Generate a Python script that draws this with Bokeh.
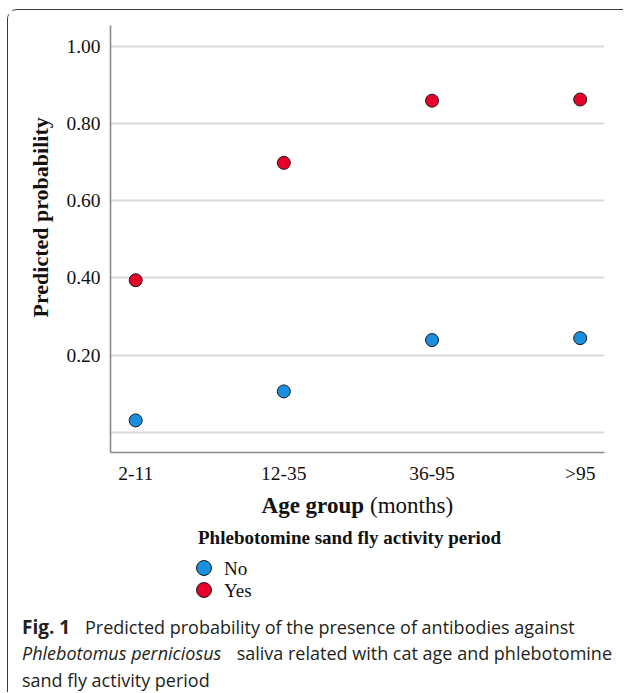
from bokeh.plotting import figure
from bokeh.layouts import column
from bokeh.models import Range1d, FixedTicker, Label, Title
from bokeh.embed import file_html
from bokeh.resources import INLINE

# ---- data ----
age_groups = ["2-11", "12-35", "36-95", ">95"]
prob_no = [0.031, 0.106, 0.239, 0.244]
prob_yes = [0.394, 0.698, 0.859, 0.862]
y_ticks = [0.0, 0.2, 0.4, 0.6, 0.8, 1.0]
y_tick_labels = ["", "0.20", "0.40", "0.60", "0.80", "1.00"]
series_names = ["No", "Yes"]
series_colors = ["#1a8fe0", "#e8002b"]
legend_title = "Phlebotomine sand fly activity period"
x_title = ("Age group", "(months)")
y_title = "Predicted probability"

# ---- layout constants ----
OX, OY = 8.5, 10.5           # page offset of the figures (inside the framed box)
WA, HA = 615, 476            # chart figure
WB, HB = 615, 206            # legend / caption figure
SERIF = "Liberation Serif"
SANS = "Open Sans"
INK = "#111111"

x_idx = list(range(len(age_groups)))

def no_frame_align(p):
    try:
        p.frame_align = False
    except Exception:
        pass

# ---------------- chart ----------------
pA = figure(width=WA, height=HA, output_backend="svg", toolbar_location=None,
            x_range=Range1d(-0.170, 3.164), y_range=Range1d(-0.0522, 1.0537),
            min_border_left=102, min_border_top=15,
            min_border_right=19, min_border_bottom=33)
no_frame_align(pA)
pA.outline_line_color = None
pA.border_fill_color = "white"

pA.xaxis.ticker = FixedTicker(ticks=x_idx)
pA.xaxis.major_label_overrides = {i: g for i, g in zip(x_idx, age_groups)}
pA.yaxis.ticker = FixedTicker(ticks=y_ticks)
pA.yaxis.major_label_overrides = {t: l for t, l in zip(y_ticks, y_tick_labels)}
for ax in (pA.xaxis, pA.yaxis):
    ax.axis_line_color = "#8a8a8a"
    ax.axis_line_width = 1.6
    ax.major_tick_line_color = None
    ax.minor_tick_line_color = None
    ax.major_label_text_font = SERIF
    ax.major_label_text_font_size = "19.5px"
    ax.major_label_text_color = INK
pA.xaxis.major_label_standoff = 4
pA.yaxis.major_label_standoff = 4
pA.xgrid.grid_line_color = None
pA.ygrid.ticker = FixedTicker(ticks=y_ticks)
pA.ygrid.grid_line_color = "#d9d9d9"
pA.ygrid.grid_line_width = 2

for vals, col in zip((prob_no, prob_yes), series_colors):
    pA.scatter(x=x_idx, y=vals, size=13, fill_color=col,
               line_color="#1a1a1a", line_width=1)

pA.add_layout(Title(text=y_title, align="left", offset=135, standoff=21,
                    text_font=SERIF, text_font_size="22px", text_font_style="bold",
                    text_color=INK), "left")

# ---------------- legend + caption (page-pixel coordinates) ----------------
pB = figure(width=WB, height=HB, output_backend="svg", toolbar_location=None,
            x_range=Range1d(OX, OX + WB), y_range=Range1d(OY + HA + HB, OY + HA),
            x_axis_type=None, y_axis_type=None, min_border=0)
no_frame_align(pB)
pB.outline_line_color = None
pB.grid.visible = False

def lab(x, y, text, size, style="normal", font=SERIF, align="left",
        baseline="middle", color=INK):
    pB.add_layout(Label(x=x, y=y, text=text, text_align=align, text_baseline=baseline,
                        text_font=font, text_font_size=size, text_font_style=style,
                        text_color=color))

# x-axis title (bold + regular parts)
lab(364, 505, x_title[0], "23px", "bold", align="right")
lab(370, 505, x_title[1], "23px")

# legend
lab(198, 537, legend_title, "19px", "bold")
key_x = 204
key_y = [568, 590]
pB.scatter(x=[key_x] * len(series_names), y=key_y, size=15,
           fill_color=series_colors, line_color="#1a1a1a", line_width=1)
for name, yy in zip(series_names, key_y):
    lab(224, yy, name, "19px")

# caption
CAP = "#231f20"
lab(22, 627, "Fig. 1", "19px", "bold", SANS, baseline="alphabetic", color=CAP)
lab(85, 627, "Predicted probability of the presence of antibodies against", "18px",
    "normal", SANS, baseline="alphabetic", color=CAP)
lab(22, 653, "Phlebotomus perniciosus", "18px", "italic", SANS, baseline="alphabetic", color=CAP)
lab(612, 653, "saliva related with cat age and phlebotomine", "18px", "normal", SANS,
    align="right", baseline="alphabetic", color=CAP)
lab(22, 680, "sand fly activity period", "18px", "normal", SANS, baseline="alphabetic",
    color=CAP)

lay = column(pA, pB, margin=(9, 0, 0, 7), spacing=0,
             styles={"border-top": "1.5px solid #3a3a3a",
                     "border-left": "1.5px solid #3a3a3a",
                     "border-top-left-radius": "10px"})

open("out.html", "w").write(file_html(lay, INLINE))
